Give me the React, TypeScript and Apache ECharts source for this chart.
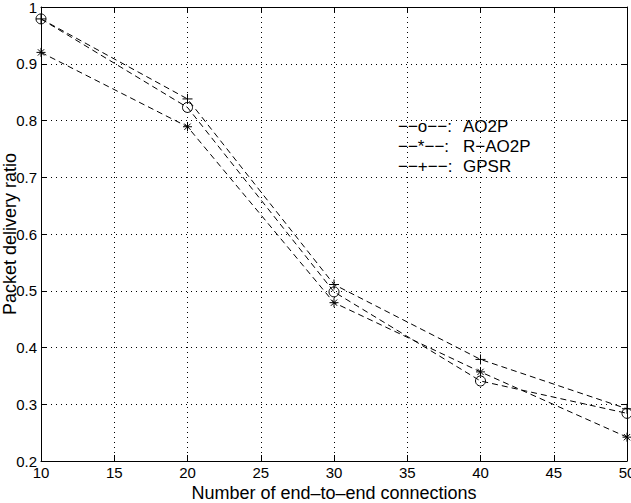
import React, { useEffect, useRef } from "react";
import * as echarts from "echarts";

const connections = [10, 20, 30, 40, 50];
const ao2p = [0.979, 0.823, 0.498, 0.341, 0.284];
const rAo2p = [0.92, 0.789, 0.479, 0.357, 0.242];
const gpsr = [0.979, 0.838, 0.511, 0.379, 0.292];
const legendLabels = ["AO2P", "R\u2212AO2P", "GPSR"];
const legendKeys = ["\u2212\u2212o\u2212\u2212:", "\u2212\u2212*\u2212\u2212:", "\u2212\u2212+\u2212\u2212:"];

const FONT = "'Liberation Sans', Arial, Helvetica, sans-serif";
const PLUS = "path://M0,5 L10,5 M5,0 L5,10";
const STAR = "path://M0,5 L10,5 M5,0 L5,10 M1.5,1.5 L8.5,8.5 M1.5,8.5 L8.5,1.5";

function mk(name: string, vals: number[], symbol: string, size: number) {
  return {
    name,
    type: "line",
    data: connections.map((c, i) => [c, vals[i]]),
    symbol,
    symbolSize: size,
    showSymbol: true,
    lineStyle: { color: "#000", width: 1, type: [6, 4] },
    itemStyle: { color: "rgba(0,0,0,0)", borderColor: "#000", borderWidth: 1 },
    z: 3,
  };
}

export default function App() {
  const ref = useRef<HTMLDivElement>(null);
  useEffect(() => {
    if (!ref.current) return;
    const chart = echarts.init(ref.current, undefined, { renderer: "svg" });
    const axisCommon = {
      axisLine: { show: true, lineStyle: { color: "#000", width: 1 } },
      axisTick: { show: true, inside: true, length: 6, lineStyle: { color: "#000" } },
    };
    chart.setOption({
      animation: false,
      backgroundColor: "#fff",
      grid: {
        left: 41,
        right: 4,
        top: 7,
        bottom: 42,
        containLabel: false,
        outerBoundsMode: "none",
      },
      xAxis: [
        {
          type: "value",
          min: 10,
          max: 50,
          interval: 5,
          ...axisCommon,
          axisLabel: { color: "#000", fontSize: 15, fontFamily: FONT, margin: 4 },
          splitLine: { show: true, lineStyle: { color: "#000", type: [1, 4], width: 1 } },
          name: "Number of end\u2013to\u2013end connections",
          nameLocation: "middle",
          nameGap: 23,
          nameMoveOverlap: false,
          nameTextStyle: { color: "#000", fontSize: 18, fontFamily: FONT },
        },
        {
          type: "value",
          position: "top",
          min: 10,
          max: 50,
          interval: 5,
          ...axisCommon,
          axisLabel: { show: false },
          splitLine: { show: false },
        },
      ],
      yAxis: [
        {
          type: "value",
          min: 0.2,
          max: 1,
          interval: 0.1,
          ...axisCommon,
          axisLabel: {
            color: "#000",
            fontSize: 15,
            fontFamily: FONT,
            margin: 4,
            formatter: (v: number) => String(Math.round(v * 10) / 10),
          },
          splitLine: { show: true, lineStyle: { color: "#000", type: [1, 4], width: 1 } },
          name: "Packet delivery ratio",
          nameLocation: "middle",
          nameGap: 22,
          nameMoveOverlap: false,
          nameTextStyle: { color: "#000", fontSize: 18, fontFamily: FONT },
        },
        {
          type: "value",
          position: "right",
          min: 0.2,
          max: 1,
          interval: 0.1,
          ...axisCommon,
          axisLabel: { show: false },
          splitLine: { show: false },
        },
      ],
      series: [
        mk("AO2P", ao2p, "circle", 10),
        mk("R-AO2P", rAo2p, STAR, 9),
        mk("GPSR", gpsr, PLUS, 10),
      ],
      graphic: legendLabels.flatMap((lab, i) => [
        {
          type: "text",
          left: 398,
          top: 118 + i * 20,
          style: { text: legendKeys[i], fill: "#000", font: `17px ${FONT}` },
          z: 10,
        },
        {
          type: "text",
          left: 463,
          top: 118 + i * 20,
          style: { text: lab, fill: "#000", font: `17px ${FONT}` },
          z: 10,
        },
      ]),
    });
    return () => chart.dispose();
  }, []);
  return (
    <div
      ref={ref}
      style={{ position: "fixed", left: 0, top: 0, width: 631, height: 503 }}
    />
  );
}
